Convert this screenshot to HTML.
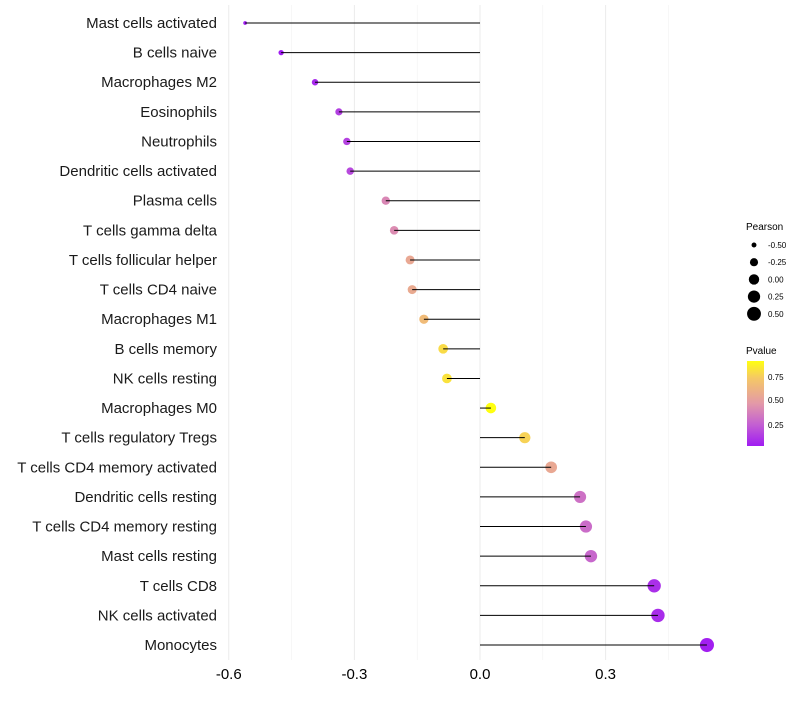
<!DOCTYPE html>
<html><head><meta charset="utf-8"><style>
body{margin:0;background:#fff;font-family:"Liberation Sans",sans-serif}
svg text{font-family:"Liberation Sans",sans-serif}
</style></head><body>
<svg id="chart" width="800" height="700">
<defs><linearGradient id="pg" x1="0" y1="1" x2="0" y2="0">
<stop offset="0" stop-color="#a01cf2"/><stop offset="0.25" stop-color="#c35fd2"/>
<stop offset="0.5" stop-color="#e399a8"/><stop offset="0.8" stop-color="#f5c865"/>
<stop offset="1" stop-color="#ffff10"/></linearGradient></defs>
<g id="grid"></g><g id="marks"></g><g id="labels"></g>
<g>
<text x="746" y="230" font-size="10">Pearson</text>
<g id="sizeleg"></g></g>
<g>
<text x="746" y="354" font-size="10">Pvalue</text>
<rect x="747" y="361" width="17" height="85" fill="url(#pg)"/>
<text x="768" y="380" font-size="8">0.75</text>
<text x="768" y="403" font-size="8">0.50</text>
<text x="768" y="428" font-size="8">0.25</text>
</g>
</svg>
<script>
const cells=["Mast cells activated","B cells naive","Macrophages M2","Eosinophils","Neutrophils","Dendritic cells activated","Plasma cells","T cells gamma delta","T cells follicular helper","T cells CD4 naive","Macrophages M1","B cells memory","NK cells resting","Macrophages M0","T cells regulatory  Tregs ","T cells CD4 memory activated","Dendritic cells resting","T cells CD4 memory resting","Mast cells resting","T cells CD8","NK cells activated","Monocytes"];
const pearson=[-0.561,-0.475,-0.394,-0.337,-0.318,-0.310,-0.225,-0.205,-0.167,-0.162,-0.134,-0.088,-0.079,0.026,0.107,0.170,0.239,0.253,0.265,0.416,0.425,0.542];
const pvalue=[0.02,0.04,0.08,0.15,0.16,0.18,0.4,0.42,0.55,0.56,0.65,0.78,0.8,0.89,0.75,0.55,0.32,0.3,0.28,0.1,0.09,0.05];
const xticks=[-0.6,-0.3,0.0,0.3];
const xtickLabels=["-0.6","-0.3","0.0","0.3"];
const legVals=[-0.5,-0.25,0,0.25,0.5];
const legLabels=["-0.50","-0.25","0.00","0.25","0.50"];
const NS="http://www.w3.org/2000/svg";
const X=v=>480+v*418.7;
const Y=i=>23+i*29.62;
const R=p=>Math.sqrt(3.5+42*(p+0.56));
function hex(h){return [1,3,5].map(i=>parseInt(h.substr(i,2),16));}
const stops=[[0.04,"#a01cf2"],[0.25,"#c35fd2"],[0.47,"#e399a8"],[0.72,"#f5c865"],[0.89,"#ffff10"]];
function col(p){
 if(p<=stops[0][0])return stops[0][1];
 for(let i=1;i<stops.length;i++){if(p<=stops[i][0]){const t=(p-stops[i-1][0])/(stops[i][0]-stops[i-1][0]);const a=hex(stops[i-1][1]),b=hex(stops[i][1]);return "rgb("+a.map((v,k)=>Math.round(v+(b[k]-v)*t)).join(",")+")";}}
 return stops[stops.length-1][1];}
function mk(t,a,parent){const e=document.createElementNS(NS,t);for(const k in a)e.setAttribute(k,a[k]);document.getElementById(parent).appendChild(e);return e;}
[-0.45,-0.15,0.15,0.45].forEach(v=>{const l=mk("line",{x1:X(v),x2:X(v),y1:5,y2:660,stroke:"#f2f2f2","stroke-width":0.6},"grid");

});
xticks.forEach((v,i)=>{const l=mk("line",{x1:X(v),x2:X(v),y1:5,y2:660,stroke:"#ebebeb","stroke-width":1},"grid");


const t=mk("text",{x:X(v),y:679,"font-size":15,"text-anchor":"middle",fill:"#000"},"labels");t.textContent=xtickLabels[i];

});
cells.forEach((c,i)=>{
 const t=mk("text",{x:217,y:Y(i)+5,"font-size":15,"text-anchor":"end",fill:"#1a1a1a"},"labels");t.textContent=c;
 
 
 const d=mk("circle",{cx:X(pearson[i]),cy:Y(i),r:R(pearson[i]),fill:col(pvalue[i])},"marks");
 
 
 const l=mk("line",{x1:X(0),x2:X(pearson[i]),y1:Y(i),y2:Y(i),stroke:"#000","stroke-width":1},"marks");
 
 
});
legVals.forEach((v,i)=>{const y=245+i*17.2;
 const d=mk("circle",{cx:754,cy:y,r:R(v),fill:"#000"},"sizeleg");
 
 
 const t=mk("text",{x:768,y:y+3,"font-size":8},"sizeleg");t.textContent=legLabels[i];
 
 });
</script>
</body></html>
